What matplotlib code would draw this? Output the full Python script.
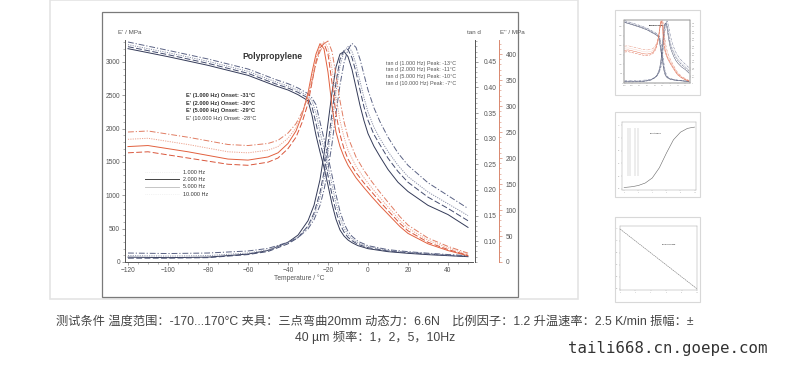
import numpy as np
import matplotlib.pyplot as plt
from matplotlib.patches import Rectangle
from matplotlib.lines import Line2D
from matplotlib.ticker import MultipleLocator

plt.rcParams['font.family'] = ['Liberation Sans', 'Noto Sans CJK SC', 'DejaVu Sans']

# ---- dados (Polypropylene, DMA) ----
freq_labels = ['1.000 Hz', '2.000 Hz', '5.000 Hz', '10.000 Hz']
onsets = [-31, -30, -29, -28]
peaks = [-13, -11, -10, -7]

# modulo de armazenamento E' (MPa)
temp_e1 = [-120, -100, -80, -60, -46, -40, -35, -30, -28, -26, -24, -22, -20,
           -18, -16, -14, -12, -10, -8, -5, 0, 10, 20, 30, 40, 50]
e1_1hz = [3200, 3080, 2950, 2800, 2640, 2580, 2510, 2420, 2200, 1900, 1650, 1420, 1150,
          870, 640, 480, 390, 330, 290, 245, 200, 155, 130, 110, 95, 80]
e1_2hz = [3230, 3110, 2980, 2830, 2670, 2610, 2545, 2460, 2330, 2080, 1800, 1560, 1300,
          1010, 760, 570, 450, 370, 320, 265, 215, 165, 140, 118, 100, 85]
e1_5hz = [3260, 3140, 3010, 2860, 2700, 2640, 2575, 2490, 2420, 2230, 1950, 1700, 1440,
          1160, 880, 660, 510, 410, 350, 285, 230, 175, 148, 125, 106, 90]
e1_10hz = [3300, 3175, 3045, 2895, 2735, 2675, 2610, 2525, 2460, 2360, 2100, 1850, 1580,
           1300, 1010, 760, 580, 460, 385, 310, 245, 185, 155, 132, 112, 95]

# tan d
temp_tan = [-120, -100, -80, -60, -50, -40, -35, -30, -27, -24, -22, -20, -18, -16, -14,
            -12, -10, -8, -6, -4, -2, 0, 3, 6, 10, 15, 20, 30, 40, 50]
tan_1hz = [0.069, 0.068, 0.069, 0.075, 0.082, 0.098, 0.112, 0.140, 0.170, 0.220, 0.270,
           0.330, 0.390, 0.440, 0.465, 0.470, 0.460, 0.435, 0.400, 0.365, 0.335, 0.310,
           0.285, 0.265, 0.240, 0.215, 0.197, 0.170, 0.152, 0.127]
tan_2hz = [0.067, 0.067, 0.068, 0.074, 0.080, 0.095, 0.107, 0.130, 0.155, 0.195, 0.235,
           0.290, 0.350, 0.410, 0.455, 0.472, 0.474, 0.458, 0.430, 0.395, 0.362, 0.336,
           0.308, 0.288, 0.262, 0.236, 0.215, 0.186, 0.164, 0.140]
tan_5hz = [0.072, 0.071, 0.072, 0.077, 0.083, 0.097, 0.108, 0.128, 0.150, 0.185, 0.222,
           0.272, 0.330, 0.392, 0.442, 0.470, 0.480, 0.470, 0.445, 0.412, 0.380, 0.352,
           0.322, 0.300, 0.275, 0.248, 0.226, 0.196, 0.173, 0.150]
tan_10hz = [0.077, 0.076, 0.077, 0.081, 0.086, 0.098, 0.107, 0.124, 0.142, 0.170, 0.200,
            0.240, 0.290, 0.350, 0.405, 0.448, 0.474, 0.486, 0.478, 0.455, 0.425, 0.395,
            0.360, 0.333, 0.303, 0.272, 0.248, 0.214, 0.189, 0.164]

# modulo de perda E'' (MPa)
temp_e2 = [-120, -110, -100, -90, -80, -70, -60, -50, -45, -40, -36, -33, -30, -28, -26,
           -24, -22, -20, -18, -16, -14, -12, -10, -6, -2, 2, 6, 10, 16, 20, 30, 40, 50]
e2_1hz = [222, 224, 218, 212, 205, 198, 196, 202, 210, 228, 252, 282, 325, 365, 400,
          420, 410, 365, 300, 250, 222, 202, 186, 162, 143, 125, 108, 92, 68, 55, 35, 22, 12]
e2_2hz = [210, 212, 206, 200, 194, 188, 186, 192, 200, 218, 240, 268, 305, 345, 385,
          412, 420, 400, 345, 285, 245, 218, 198, 172, 152, 134, 116, 99, 74, 60, 38, 24, 13]
e2_5hz = [236, 238, 232, 226, 219, 212, 210, 215, 222, 238, 258, 284, 320, 355, 392,
          415, 424, 412, 372, 318, 272, 240, 215, 184, 162, 142, 124, 106, 80, 65, 42, 27, 15]
e2_10hz = [250, 252, 246, 240, 233, 226, 224, 228, 234, 248, 266, 288, 318, 348, 382,
           405, 420, 425, 405, 360, 310, 270, 240, 202, 176, 154, 134, 115, 87, 71, 46, 30, 17]

# miniaturas a direita
thumb2_x = [0, 1, 2, 3, 4, 5, 6, 7, 8, 9, 10]
thumb2_y = [0.02, 0.03, 0.05, 0.09, 0.17, 0.33, 0.56, 0.77, 0.89, 0.95, 0.97]
thumb3_x = [0, 10]
thumb3_y = [1.0, 0.0]

caption1 = ('测试条件 温度范围：-170...170°C 夹具：三点弯曲20mm 动态力：6.6N　'
            '比例因子：1.2 升温速率：2.5 K/min 振幅：±')
caption2 = '40 µm 频率：1，2，5，10Hz'

# ---- estilos ----
W, H = 800, 366
blue = ['#333a58', '#434b6e', '#8a90a8', '#5a6284']
red = ['#e2603e', '#d9553a', '#eda48f', '#e07c62']
styles = ['-', (0, (6, 2.5)), (0, (1.2, 1.2)), (0, (6, 2, 1.2, 2))]
txt_col = '#555555'


def fr(x, y, w=0, h=0):
    """converte pixels em fracao da figura"""
    return [x / W, 1 - (y + h) / H, w / W, h / H]


fig = plt.figure(figsize=(8, 3.66), dpi=100)

# cartao e moldura da imagem
fig.patches.append(Rectangle(fr(50, 0, 528, 299)[:2], 528 / W, 299 / H,
                             transform=fig.transFigure, fc='white', ec='#e4e4e4', lw=1.2, zorder=-5))
fig.patches.append(Rectangle(fr(102, 12, 416, 285)[:2], 416 / W, 285 / H,
                             transform=fig.transFigure, fc='white', ec='#7a7a7a', lw=0.9, zorder=-4))
for y0 in (10, 112, 217):
    fig.patches.append(Rectangle(fr(615, y0, 85, 85)[:2], 85 / W, 85 / H,
                                 transform=fig.transFigure, fc='white', ec='#d8d8d8', lw=0.8,
                                 zorder=-3))

ax = fig.add_axes(fr(125, 40, 348, 222))
ax2 = ax.twinx()
ax3 = ax.twinx()

e1_series = [e1_1hz, e1_2hz, e1_5hz, e1_10hz]
tan_series = [tan_1hz, tan_2hz, tan_5hz, tan_10hz]
e2_series = [e2_1hz, e2_2hz, e2_5hz, e2_10hz]

for i in range(4):
    ax.plot(temp_e1, e1_series[i], color=blue[i], ls=styles[i], lw=0.7)
    ax2.plot(temp_tan, tan_series[i], color=blue[i], ls=styles[i], lw=0.7)
    ax3.plot(temp_e2, e2_series[i], color=red[i], ls=styles[i], lw=0.7)

ax.set_xlim(-121.5, 52.5)
ax.set_ylim(0, 3330)
ax2.set_ylim(0.0595, 0.4925)
ax3.set_ylim(0, 427)

for a in (ax, ax2, ax3):
    a.patch.set_visible(False)
    for s in a.spines.values():
        s.set_visible(False)
    a.tick_params(labelsize=4.8, labelcolor=txt_col, color='#777777', length=2, width=0.5, pad=1.5)
    a.tick_params(which='minor', length=1.2, width=0.4, color='#777777')

ax.spines['left'].set_visible(True)
ax.spines['bottom'].set_visible(True)
ax.spines['left'].set_color('#555555')
ax.spines['bottom'].set_color('#555555')
ax.spines['left'].set_linewidth(0.7)
ax.spines['bottom'].set_linewidth(0.7)
ax.xaxis.set_major_locator(MultipleLocator(20))
ax.xaxis.set_minor_locator(MultipleLocator(5))
ax.yaxis.set_major_locator(MultipleLocator(500))
ax.yaxis.set_minor_locator(MultipleLocator(100))

ax2.spines['right'].set_visible(True)
ax2.spines['right'].set_position(('outward', 1.5))
ax2.spines['right'].set_color('#555555')
ax2.spines['right'].set_linewidth(0.7)
ax2.yaxis.set_major_locator(MultipleLocator(0.05))
ax2.yaxis.set_minor_locator(MultipleLocator(0.01))
ax2.yaxis.set_major_formatter(lambda v, p: f'{v:.2f}')
ax2.tick_params(pad=4)

ax3.spines['right'].set_visible(True)
ax3.spines['right'].set_position(('outward', 18.7))
ax3.spines['right'].set_color('#d9886f')
ax3.spines['right'].set_linewidth(0.7)
ax3.yaxis.set_major_locator(MultipleLocator(50))
ax3.yaxis.set_minor_locator(MultipleLocator(10))
ax3.tick_params(color='#d9886f', which='both')
ax3.tick_params(pad=3)

ax.set_xlabel('Temperature / °C', fontsize=4.8, color=txt_col, labelpad=0.5)

# rotulos dos eixos
fig.text(118 / W, 1 - 32 / H, "E' / MPa", fontsize=4.5, color=txt_col, va='center')
fig.text(467 / W, 1 - 32 / H, 'tan d', fontsize=4.5, color=txt_col, va='center')
fig.text(500 / W, 1 - 32 / H, "E'' / MPa", fontsize=4.5, color=txt_col, va='center')

ax.text(0.337, 0.925, 'Polypropylene', transform=ax.transAxes, fontsize=6.2,
        fontweight='bold', color='#333333', va='center')

for i in range(4):
    ax.text(0.175, 0.748 - i * 0.0335, f"E' ({freq_labels[i]}) Onset: {onsets[i]}°C",
            transform=ax.transAxes, fontsize=4.1, fontweight='bold' if i < 3 else 'normal',
            color='#333333', va='center')
    ax.text(0.75, 0.896 - i * 0.0305, f'tan d ({freq_labels[i]}) Peak: {peaks[i]}°C',
            transform=ax.transAxes, fontsize=3.9, color='#555555', va='center')

handles = [Line2D([], [], color='#e8e8e8', lw=0.5, ls=':'),
           Line2D([], [], color='#444444', lw=0.7),
           Line2D([], [], color='#bbbbbb', lw=0.6),
           Line2D([], [], color='#e8e8e8', lw=0.5, ls=':')]
ax.legend(handles, freq_labels, loc='upper left', bbox_to_anchor=(0.058, 0.415),
          frameon=False, fontsize=3.9, handlelength=6.3, handletextpad=0.6,
          labelspacing=0.42, borderpad=0, borderaxespad=0, labelcolor='#333333')

# ---- miniaturas ----
t1 = fig.add_axes(fr(624, 20, 66, 63))
t1b = t1.twinx()
t1c = t1.twinx()
for i in range(4):
    t1.plot(temp_e1, e1_series[i], color=blue[i], ls=styles[i], lw=0.3)
    t1b.plot(temp_tan, tan_series[i], color=blue[i], ls=styles[i], lw=0.3)
    t1c.plot(temp_e2, e2_series[i], color=red[i], ls=styles[i], lw=0.3)
t1.set_xlim(-121.5, 52.5)
t1.set_ylim(0, 3330)
t1b.set_ylim(0.0595, 0.4925)
t1c.set_ylim(0, 427)
t1.text(0.37, 0.9, 'Polypropylene', transform=t1.transAxes, fontsize=1.6, fontweight='bold')

t2 = fig.add_axes(fr(622, 122, 74, 68))
t2.plot(thumb2_x, thumb2_y, color='#666666', lw=0.4)
t2.vlines([0.6, 0.9, 1.6, 1.9], 0.2, 0.95, color='#aaaaaa', lw=0.3)
t2.set_xlim(-0.3, 10.2)
t2.set_ylim(-0.02, 1.05)
t2.text(0.38, 0.82, 'Polystyrene', transform=t2.transAxes, fontsize=1.6)

t3 = fig.add_axes(fr(620, 226, 77, 64))
t3.plot(thumb3_x, thumb3_y, color='#777777', lw=0.4, ls=(0, (3, 1)))
t3.set_xlim(0, 10)
t3.set_ylim(-0.02, 1.05)
t3.text(0.55, 0.7, 'Polypropylene', transform=t3.transAxes, fontsize=1.6)

for a in (t1, t1b, t1c, t2, t3):
    a.patch.set_visible(False)
    a.tick_params(labelsize=1.2, length=0.8, width=0.2, pad=0.3, colors='#999999')
    for s in a.spines.values():
        s.set_linewidth(0.3)
        s.set_color('#999999')

# ---- legenda em chines e marca d'agua ----
fig.text(375 / W, 1 - 322 / H, caption1, fontsize=8.8, color='#444444', ha='center', va='center')
fig.text(375 / W, 1 - 337 / H, caption2, fontsize=8.8, color='#444444', ha='center', va='center')
fig.text(568 / W, 1 - 348 / H, 'taili668.cn.goepe.com', fontsize=11.3, color='#333333',
         family='DejaVu Sans Mono', va='center')

fig.savefig('out.png', dpi=100)
